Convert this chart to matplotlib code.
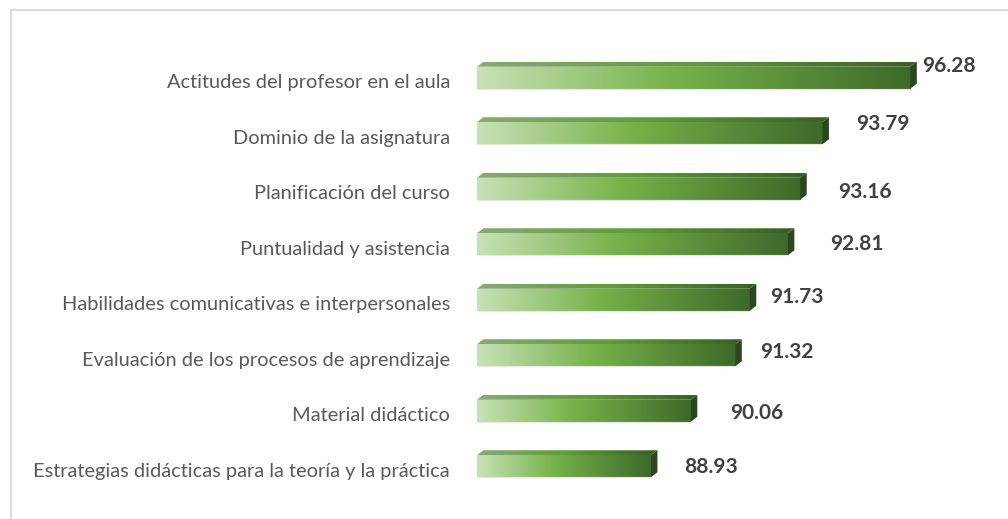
import numpy as np
import matplotlib
matplotlib.use("Agg")
import matplotlib.pyplot as plt
from matplotlib.colors import LinearSegmentedColormap
from matplotlib.patches import Polygon, Rectangle


categories = [
    "Actitudes del profesor en el aula",
    "Dominio de la asignatura",
    "Planificación del curso",
    "Puntualidad y asistencia",
    "Habilidades comunicativas e interpersonales",
    "Evaluación de los procesos de aprendizaje",
    "Material didáctico",
    "Estrategias didácticas para la teoría y la práctica",
]
values = [96.28, 93.79, 93.16, 92.81, 91.73, 91.32, 90.06, 88.93]

# hand placed value labels in the original (pixels from bar end)
label_dx = [12, 34, 38, 42, 20, 25, 39, 33]
label_dy = [12, 9, -3, 0, 3, 3, -2, -1]

XMIN, XMAX = 84, 98
W, H, DPI = 1008, 519, 100

front_cmap = LinearSegmentedColormap.from_list(
    "front", [(0.0, "#c8e2b7"), (0.45, "#76b249"), (1.0, "#3e692a")])
top_cmap = LinearSegmentedColormap.from_list(
    "top", [(0.0, "#8aa878"), (0.5, "#5f9a3c"), (1.0, "#3b5f28")])
side_color = "#2b481c"

fig = plt.figure(figsize=(W / DPI, H / DPI), dpi=DPI)
ax = fig.add_axes([477 / W, 25 / H, 494 / W, 444 / H])
ax.set_xlim(XMIN, XMAX)
ax.set_ylim(len(categories) - 0.5, -0.5)
ax.axis("off")

px_x = 494 / (XMAX - XMIN)
px_y = 444 / len(categories)
dx = 6.5 / px_x
dy = 5 / px_y
h = 22 / px_y
grad = np.linspace(0, 1, 256).reshape(1, -1)

for i, (cat, v) in enumerate(zip(categories, values)):
    top, bot = i - h / 2, i + h / 2
    # front face
    ax.imshow(grad, cmap=front_cmap, extent=[XMIN, v, bot, top],
              aspect="auto", interpolation="bilinear", zorder=2)
    ax.plot([XMIN, v], [bot, bot], color="#dfeed6", lw=0.8, zorder=3,
            solid_capstyle="butt")
    # top face
    poly = Polygon([(XMIN, top), (v, top), (v + dx, top - dy), (XMIN + dx, top - dy)],
                   closed=True, facecolor="none", edgecolor="none")
    ax.add_patch(poly)
    im = ax.imshow(grad, cmap=top_cmap, extent=[XMIN, v + dx, top, top - dy],
                   aspect="auto", interpolation="bilinear", zorder=2)
    im.set_clip_path(poly)
    # side face
    ax.add_patch(Polygon([(v, top), (v + dx, top - dy), (v + dx, bot - dy), (v, bot)],
                         closed=True, facecolor=side_color, edgecolor="none", zorder=2))

    ax.annotate(cat, xy=(0, i), xycoords=("axes fraction", "data"),
                xytext=(-27, -5), textcoords="offset pixels",
                ha="right", va="center", fontsize=14.4, family="Lato", color="#595959")
    ax.annotate(f"{v:.2f}", xy=(v, i), xytext=(label_dx[i], label_dy[i]),
                textcoords="offset pixels", ha="left", va="center",
                fontsize=15, fontweight="bold", family="Lato", color="#404040")

fig.add_artist(Rectangle((10.5 / W, -0.1), 1.2, 1 - 9.5 / H + 0.1, transform=fig.transFigure,
                         fill=False, edgecolor="#d9d9d9", lw=1.3))

fig.savefig("out.png", dpi=DPI)
